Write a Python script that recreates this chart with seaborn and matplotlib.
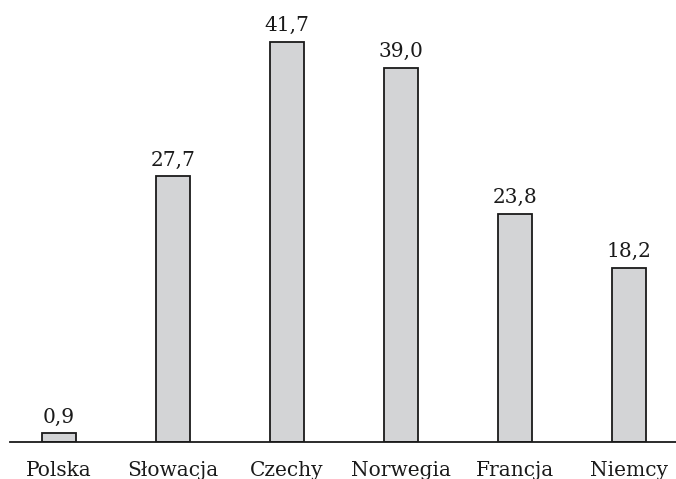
import pandas as pd
import seaborn as sns
import matplotlib.pyplot as plt

kraje = ["Polska", "Słowacja", "Czechy", "Norwegia", "Francja", "Niemcy"]
wartosci = [0.9, 27.7, 41.7, 39.0, 23.8, 18.2]

sns.set_style("white")
plt.rcParams["font.family"] = ["DejaVu Serif"]

df = pd.DataFrame({"kraj": kraje, "wartosc": wartosci})

fig = plt.figure(figsize=(6.76, 4.79), dpi=100)
ax = fig.add_axes([10 / 676, 37 / 479, 666 / 676, 442 / 479])

sns.barplot(data=df, x="kraj", y="wartosc", ax=ax, color="#d3d4d6",
            saturation=1, width=0.3, edgecolor="#1a1a1a", linewidth=1.3)

etykiety = [f"{v:.1f}".replace(".", ",") for v in wartosci]
ax.bar_label(ax.containers[0], labels=etykiety, padding=5, fontsize=14.5, color="#1a1a1a")

ax.set_xlim(-0.43, 5.41)
ax.set_ylim(0, 46.1)
ax.set_xlabel("")
ax.set_ylabel("")
ax.set_yticks([])
ax.tick_params(axis="x", length=0, pad=13.5, labelsize=14.5, labelcolor="#1a1a1a")
for s in ["top", "left", "right"]:
    ax.spines[s].set_visible(False)
ax.spines["bottom"].set_color("#1a1a1a")
ax.spines["bottom"].set_linewidth(1.3)
ax.patch.set_alpha(0)

fig.savefig("out.png", dpi=100)
